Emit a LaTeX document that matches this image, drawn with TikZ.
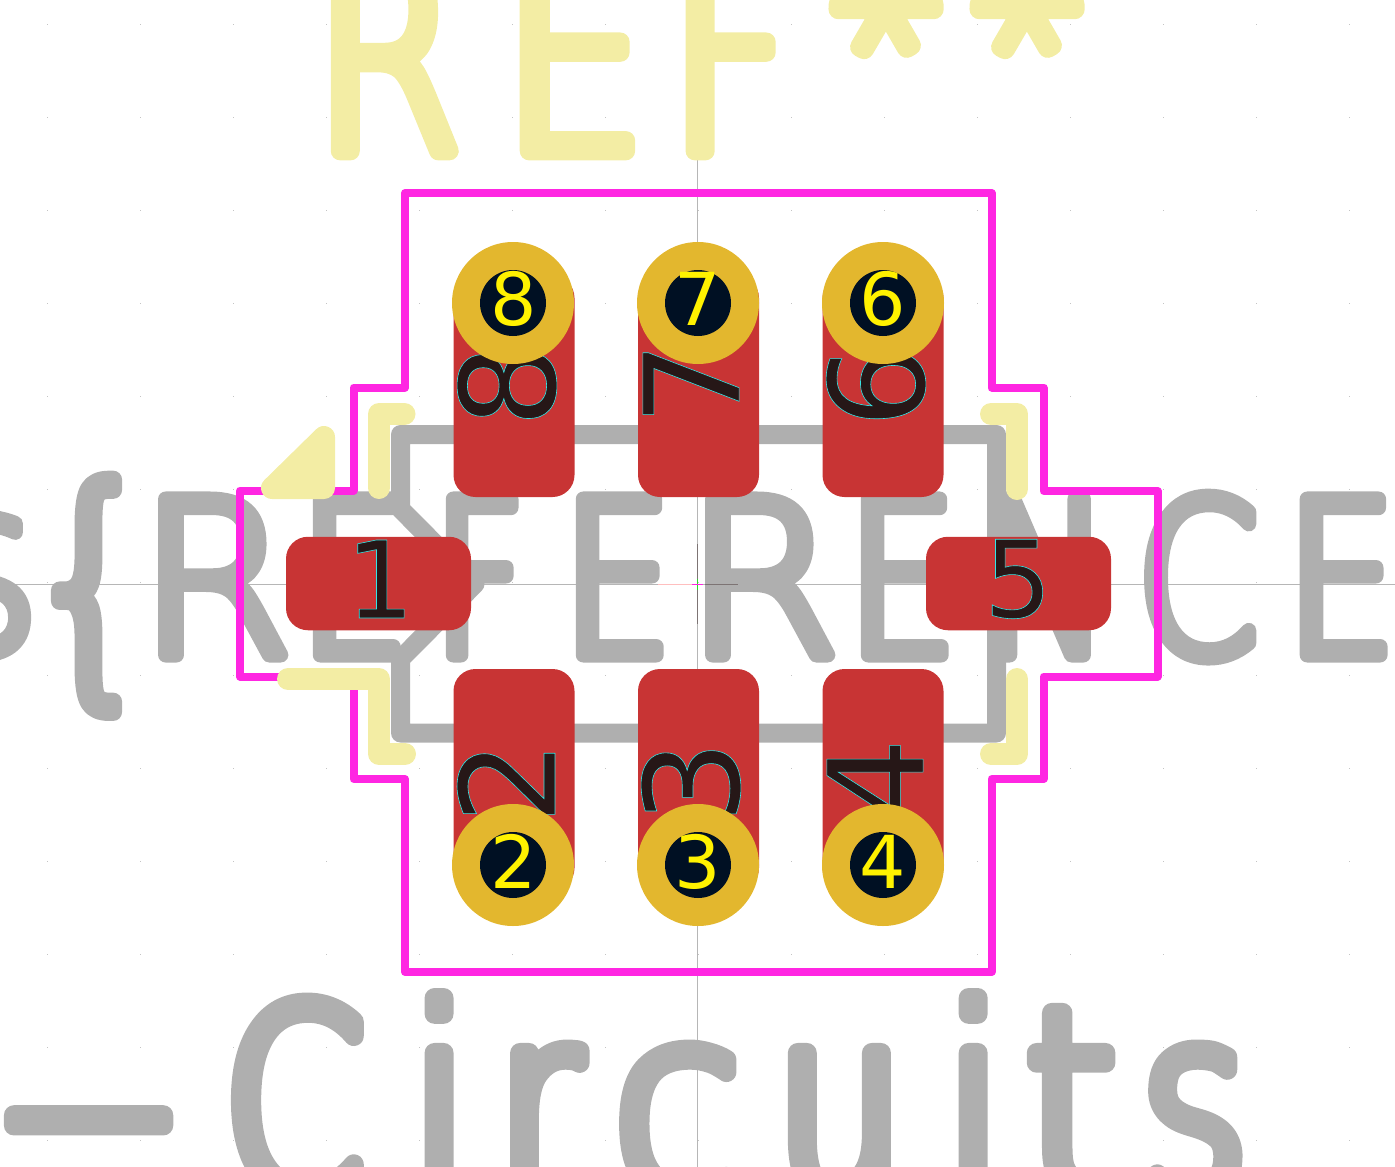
\documentclass[tikz,border=0pt]{standalone}
\usepackage{fontspec}
\usepackage{xcolor}
\usepackage{graphicx}
\setmainfont{DejaVu Sans}
\definecolor{silkyellow}{HTML}{F3EDA4}
\definecolor{fabgray}{HTML}{AFAFAF}
\definecolor{padred}{HTML}{C83434}
\definecolor{courtmagenta}{HTML}{FF26E2}
\definecolor{ringgold}{HTML}{E3B72E}
\definecolor{drillblue}{HTML}{001023}
\definecolor{numdark}{HTML}{261717}
\definecolor{griddot}{HTML}{C4C4C4}
\newfontfamily\reffont[FakeStretch=0.86,FakeBold=7]{DejaVu Sans ExtraLight}
\newfontfamily\refnarrow[FakeStretch=0.79,FakeBold=7]{DejaVu Sans ExtraLight}
\newfontfamily\refstar[FakeBold=10]{DejaVu Sans ExtraLight}
\newfontfamily\valuefont[FakeStretch=0.81,FakeBold=7]{DejaVu Sans ExtraLight}
\newfontfamily\valuewide[FakeStretch=1.04,FakeBold=7]{DejaVu Sans ExtraLight}
\newfontfamily\valuenarrow[FakeStretch=0.73,FakeBold=7]{DejaVu Sans ExtraLight}
\newfontfamily\lowfont[FakeStretch=0.78,FakeBold=7.7]{DejaVu Sans ExtraLight}
\newfontfamily\lowwide[FakeStretch=0.9,FakeBold=7.7]{DejaVu Sans ExtraLight}
\newfontfamily\lowdashfont[FakeStretch=2.2,FakeBold=7.7]{DejaVu Sans ExtraLight}
\newcommand\slotbox[2]{\makebox[#1pt][l]{#2}}
\newcommand\sizedfont[1]{\fontsize{#1}{#1}\selectfont}
\newcommand\padtext[1]{\special{pdf:code 0.2 0.9 0.9 RG 2 Tr 0.6 w}#1\special{pdf:code 0 Tr}}
\begin{document}
\begin{tikzpicture}[
        x=1pt, y=-1pt,
        stroketext/.style={anchor=base west, inner sep=0pt, text=#1},
        fabline/.style={draw=fabgray, line width=19pt, line join=round, line cap=round},
        silkline/.style={draw=silkyellow, line width=22pt, line join=round, line cap=round},
        courtline/.style={draw=courtmagenta, line width=8pt, line join=round},
        sidepad/.style={fill=padred, rounded corners=22pt, inner sep=0pt, minimum width=185pt, minimum height=93.5pt},
        uprightpad/.style={fill=padred, rounded corners=22pt, inner sep=0pt, minimum width=121pt, minimum height=221pt},
        drillring/.style={circle, fill=ringgold, inner sep=0pt, minimum size=122pt},
        drillhole/.style={circle, fill=drillblue, inner sep=0pt, minimum size=66pt},
        ringnum/.style={inner sep=0pt, text=yellow, font=\sizedfont{73}},
        padnum/.style={inner sep=0pt, text=numdark, font=\sizedfont{107}},
        sidenum/.style={inner sep=0pt, text=numdark, rotate=90, font=\sizedfont{132}}
    ]
    \useasboundingbox (0,0) rectangle (1395,1167);

    \foreach \gx in {47,140,...,1350}
        \foreach \gy in {24,117,...,1140}
            \fill[griddot] (\gx-0.5,\gy-0.5) rectangle (\gx+0.5,\gy+0.5);
    \draw[griddot!80!gray, line width=1pt] (0,584) -- (1395,584);
    \draw[griddot!80!gray, line width=1pt] (697.5,0) -- (697.5,1167);
    \draw[numdark!60!white, line width=1pt] (697.5,544) -- (697.5,624);
    \draw[pink, line width=1pt] (658,584) -- (692,584);
    \draw[green!70!gray, line width=1pt] (697.5,579) -- (697.5,590);
    \draw[courtmagenta, line width=1pt] (692,584.5) -- (703,584.5);

    \begin{scope}[line join=round, line cap=round]
        \node[stroketext=fabgray] (reftext) at (-73,655) {\sizedfont{214}%
            \slotbox{98}{\valuefont\$}\slotbox{113}{\valuefont\sizedfont{252}\raisebox{-16pt}{\{}}\slotbox{161}{\valuewide R}\slotbox{135}{\valuefont E}\slotbox{128}{\valuenarrow F}\slotbox{123}{\valuefont E}\slotbox{162}{\valuewide R}\slotbox{133}{\valuefont E}\slotbox{157}{\valuefont N}\slotbox{149}{\valuefont C}\slotbox{120}{\valuefont E}};
        \node[stroketext=fabgray] (lowtext) at (-14,1194) {\sizedfont{258}%
            \slotbox{238}{\lowdashfont\raisebox{3pt}{-}}\slotbox{188}{\lowfont C}\slotbox{85}{\lowfont i}\slotbox{116}{\lowfont r}\slotbox{163}{\lowwide c}\slotbox{170}{\lowfont u}\slotbox{79}{\lowfont i}\slotbox{117}{\lowwide t}\slotbox{120}{\lowfont s}};
    \end{scope}

    \draw[numdark!60!white, line width=1pt] (705,584) -- (738,584);
    \draw[fabline] (400.5,434.5) -- (996.5,434.5) -- (996.5,733) -- (400.5,733) -- (400.5,659) -- (475,584) -- (400.5,509) -- cycle;

    \draw[courtline] (405,193) -- (991.5,193) -- (991.5,387.5) -- (1043.5,387.5) -- (1043.5,491) -- (1157.5,491) -- (1157.5,676.5)
        -- (1043.5,676.5) -- (1043.5,779) -- (991.5,779) -- (991.5,972) -- (405,972) -- (405,779) -- (353.5,779) -- (353.5,676.5)
        -- (240,676.5) -- (240,490.5) -- (353.5,490.5) -- (353.5,387.5) -- (405,387.5) -- cycle;

    \draw[silkline] (379,488) -- (379,414) -- (404.5,414);
    \draw[silkline] (288,679) -- (379,679) -- (379,754) -- (405,754);
    \draw[silkline] (991,414) -- (1017,414) -- (1017,489);
    \draw[silkline] (1017,679) -- (1017,754) -- (991,754);
    \filldraw[silkline, fill=silkyellow] (272,488) -- (324,488) -- (324,437) -- cycle;

    \begin{scope}[line join=round, line cap=round]
        \node[stroketext=silkyellow] (silktext) at (314,151) {\sizedfont{267}%
            \slotbox{187}{\refnarrow R}\slotbox{168}{\reffont E}\slotbox{151}{\refnarrow F}\slotbox{141}{\refstar\sizedfont{200}\raisebox{45pt}{\rotatebox[origin=c]{30}{*}}}\slotbox{120}{\refstar\sizedfont{200}\raisebox{45pt}{\rotatebox[origin=c]{30}{*}}}};
    \end{scope}

    \node[sidepad] (pad1) at (378.5,583.5) {};
    \node[sidepad] (pad5) at (1018.5,583.5) {};
    \node[uprightpad] (pad8) at (514,386.5) {};
    \node[uprightpad] (pad7) at (698.5,386.5) {};
    \node[uprightpad] (pad6) at (883,386.5) {};
    \node[uprightpad] (pad2) at (514,779.5) {};
    \node[uprightpad] (pad3) at (698.5,779.5) {};
    \node[uprightpad] (pad4) at (883,779.5) {};

    \node[padnum] (num1) at (380,579) {\padtext{1}};
    \node[padnum] (num5) at (1018,579) {\padtext{5}};
    \node[sidenum] (num8) at (507,385.5) {\padtext{8}};
    \node[sidenum] (num7) at (691,383.5) {\padtext{7}};
    \node[sidenum] (num6) at (876,386) {\padtext{6}};
    \node[sidenum] (num2) at (506,782) {\padtext{2}};
    \node[sidenum] (num3) at (691,782) {\padtext{3}};
    \node[sidenum] (num4) at (875,780) {\padtext{4}};

    \node[drillring] (ring8) at (513,303) {};
    \node[drillring] (ring7) at (698,303) {};
    \node[drillring] (ring6) at (883,303) {};
    \node[drillring] (ring2) at (513,865) {};
    \node[drillring] (ring3) at (698,865) {};
    \node[drillring] (ring4) at (883,865) {};
    \node[drillhole] (hole8) at (513,303) {};
    \node[drillhole] (hole7) at (698,303) {};
    \node[drillhole] (hole6) at (883,303) {};
    \node[drillhole] (hole2) at (513,865) {};
    \node[drillhole] (hole3) at (698,865) {};
    \node[drillhole] (hole4) at (883,865) {};

    \node[ringnum] (label8) at (514,299) {8};
    \node[ringnum] (label7) at (698,299) {7};
    \node[ringnum] (label6) at (883,299) {6};
    \node[ringnum] (label2) at (514,861.5) {2};
    \node[ringnum] (label3) at (698,861.5) {3};
    \node[ringnum] (label4) at (883,861.5) {4};
\end{tikzpicture}
\end{document}
